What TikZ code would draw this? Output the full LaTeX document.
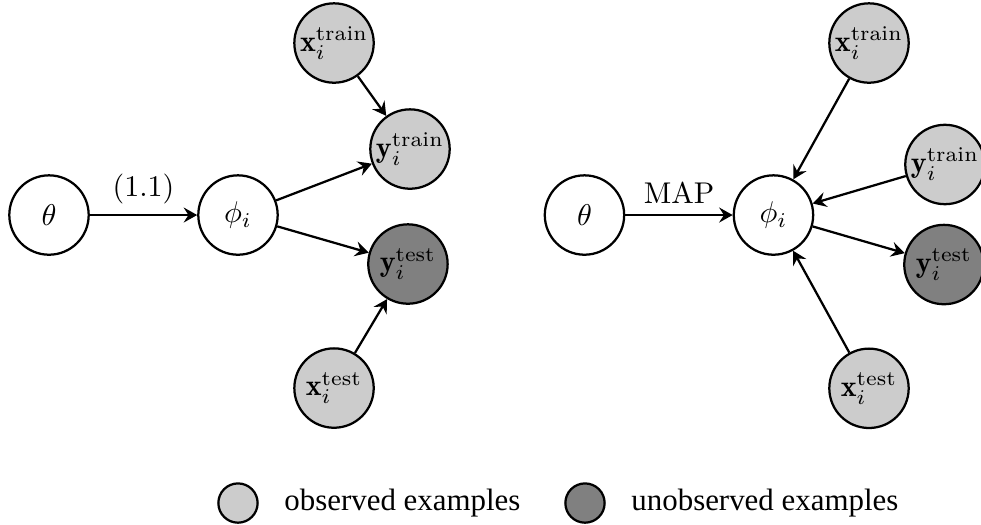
\documentclass[tikz,border=0pt]{standalone}
\usepackage{fontspec}
\usetikzlibrary{arrows.meta}
\newfontfamily\legendfont{Liberation Serif}

\begin{document}
\begin{tikzpicture}[
  latent/.style={circle, draw, line width=0.75pt, fill=white, minimum size=0.93cm, inner sep=0pt},
  observed/.style={latent, fill=black!20},
  unobserved/.style={latent, fill=black!50},
  legendbox/.style={circle, draw, line width=0.75pt, minimum size=0.46cm, inner sep=0pt},
  link/.style={-{Stealth[length=4.5pt, width=5pt, inset=1.6pt]}, line width=0.75pt},
  node distance=2.2cm,
  font=\normalsize
]
\useasboundingbox (-0.574,-3.631) rectangle (10.918,2.519);

% left model
\node[latent] (theta) at (0,0) {$\theta$};
\node[latent, right of=theta, node distance=2.214cm] (phi) {$\phi_i$};
\node[observed] (xtrain) at (3.339,2.015) {$\mathbf{x}_i^{\mathrm{train}}$};
\node[observed] (ytrain) at (4.229,0.773) {$\mathbf{y}_i^{\mathrm{train}}$};
\node[unobserved] (ytest) at (4.205,-0.574) {$\mathbf{y}_i^{\mathrm{test}}$};
\node[observed] (xtest) at (3.339,-2.027) {$\mathbf{x}_i^{\mathrm{test}}$};

\draw[link] (theta) -- node[above] {$(1.1)$} (phi);
\draw[link] (phi) -- (ytrain);
\draw[link] (phi) -- (ytest);
\draw[link] (xtrain) -- (ytrain);
\draw[link] (xtest) -- (ytest);

% right model
\node[latent] (mtheta) at (6.273,0) {$\theta$};
\node[latent, right of=mtheta, node distance=2.214cm] (mphi) {$\phi_i$};
\node[observed] (mxtrain) at (9.606,2.015) {$\mathbf{x}_i^{\mathrm{train}}$};
\node[observed] (mytrain) at (10.496,0.592) {$\mathbf{y}_i^{\mathrm{train}}$};
\node[unobserved] (mytest) at (10.484,-0.580) {$\mathbf{y}_i^{\mathrm{test}}$};
\node[observed] (mxtest) at (9.606,-2.03) {$\mathbf{x}_i^{\mathrm{test}}$};

\draw[link] (mtheta) -- node[above] {$\mathrm{MAP}$} (mphi);
\draw[link] (mxtrain) -- (mphi);
\draw[link] (mytrain) -- (mphi);
\draw[link] (mxtest) -- (mphi);
\draw[link] (mphi) -- (mytest);

% legend
\node[legendbox, fill=black!20] (keyobs) at (2.214,-3.374) {};
\node[right of=keyobs, anchor=west, node distance=0.42cm, font=\legendfont\fontsize{10.3}{12}\selectfont] (keyobstext) {observed examples};
\node[legendbox, fill=black!50] (keyunobs) at (6.279,-3.374) {};
\node[right of=keyunobs, anchor=west, node distance=0.42cm, font=\legendfont\fontsize{10.3}{12}\selectfont] (keyunobstext) {unobserved examples};
\end{tikzpicture}
\end{document}
